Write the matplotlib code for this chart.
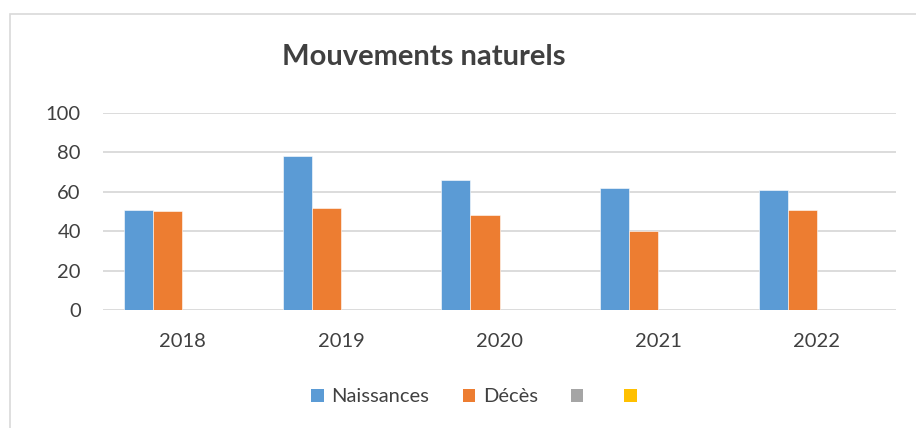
import numpy as np
import matplotlib.pyplot as plt
from matplotlib.patches import Patch, Rectangle

# data
years = ['2018', '2019', '2020', '2021', '2022']
naissances = [51, 78, 66, 62, 61]
deces = [50, 52, 48, 40, 51]
serie3 = [np.nan] * 5   # empty series (grey) in the original
serie4 = [np.nan] * 5   # empty series (yellow)
y_ticks = [0, 20, 40, 60, 80, 100]

plt.rcParams['font.family'] = ['Lato', 'DejaVu Sans']

W, H = 916, 428
fig = plt.figure(figsize=(W / 100, H / 100), dpi=100)

# light grey chart border (only top/left visible, picture is cropped)
fig.patches.append(Rectangle((10 / W, -0.2), 1.2, 1.2 - 14 / H, transform=fig.transFigure,
                             fill=False, edgecolor='#d9d9d9', linewidth=1.2))

ax = fig.add_axes([103 / W, 1 - 310.3 / H, (896 - 103) / W, (310.3 - 112.7) / H])

x = np.arange(len(years))
w = 0.183
series = [(naissances, '#5b9bd5', 'Naissances'),
          (deces, '#ed7d31', 'Décès'),
          (serie3, '#a5a5a5', ''),
          (serie4, '#ffc000', '')]
for k, (vals, col, lab) in enumerate(series):
    ax.bar(x + (k - 1.5) * w, vals, width=w, color=col, zorder=3,
           edgecolor='white', linewidth=0.4)

ax.set_xlim(-0.5, len(years) - 0.5)
ax.set_ylim(0, 100)
ax.set_yticks(y_ticks)
ax.set_xticks(x)
ax.set_xticklabels(years)
ax.yaxis.grid(True, color='#d9d9d9', linewidth=1.3, zorder=0)
for s in ax.spines.values():
    s.set_visible(False)
ax.tick_params(length=0, labelsize=14.5, colors='#404040')
ax.tick_params(axis='y', pad=16)
ax.tick_params(axis='x', pad=16)

fig.text(424 / W, 1 - 57 / H, 'Mouvements naturels', ha='center', va='center',
         fontsize=21, fontweight='bold', color='#404040')

handles = [Patch(facecolor=c, edgecolor='none') for _, c, _ in series]
labels = [lab for _, _, lab in series]
fig.legend(handles, labels, loc='center', bbox_to_anchor=(478 / W, 1 - 397 / H),
           ncol=4, frameon=False, fontsize=14.5, handlelength=0.6, handleheight=0.6,
           handletextpad=0.4, columnspacing=1.65, labelcolor='#404040')

fig.savefig('out.png', dpi=100)
